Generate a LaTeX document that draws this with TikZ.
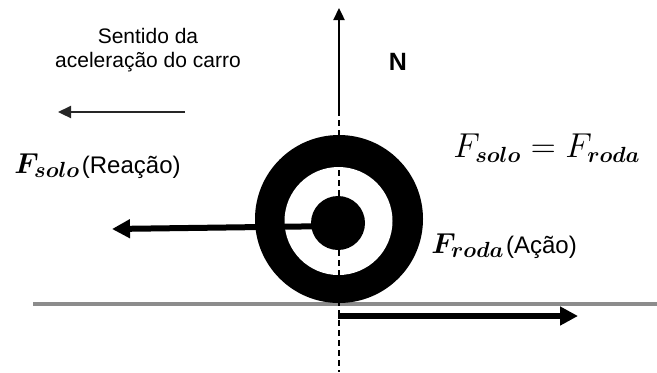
\documentclass[tikz,border=0pt]{standalone}
\usepackage{amsmath}
\usepackage{fontspec}
\setmainfont{Liberation Sans}
\usepackage{tikz}
\usetikzlibrary{arrows.meta}
\usetikzlibrary{positioning}

\tikzset{
  forca/.style={line width=3pt,-{Triangle[length=9pt,width=9pt]}},
  rotulo/.style={anchor=base west,inner sep=0pt,font=\fontsize{12}{14}\selectfont},
}
\newcommand{\vetor}[1]{{\fontsize{15}{18}\selectfont$\boldsymbol{F_{#1}}$}\hspace{0.8pt}}

\begin{document}
\begin{tikzpicture}[x=0.5pt,y=-0.5pt]
\useasboundingbox (0,0) rectangle (657,372);

% solo
\coordinate (S1) at (33,304);
\coordinate (S2) at (657,304);
\draw[line width=2pt,black!45] (S1) -- (S2);

% roda (coroa preta, anel branco e disco central)
\coordinate (O) at (339,219);
\fill (O) circle (84);
\fill[white] (338.5,221) circle (54);
\fill (338,223) circle (27);

% linha vertical tracejada e normal N
\coordinate (N0) at (339,110);
\coordinate (N1) at (339,8);
\coordinate (B) at (339,372);
\draw[line width=0.8pt,dash pattern=on 3pt off 2pt] (N0) -- (B);
\draw[line width=1.2pt,-{Triangle[length=6pt,width=5.5pt]}] (N0) -- (N1);
\node[font=\bfseries\fontsize{12.5}{14}\selectfont] (N) at (398,62) {N};

% sentido da aceleracao
\node[align=center,font=\fontsize{10.5}{12}\selectfont] (sentido) at (148,50)
  {Sentido da\\aceleração do carro};
\coordinate (A0) at (185,112);
\coordinate (A1) at (58,112);
\draw[line width=1.1pt,black!85,-{Triangle[length=6.5pt,width=6pt]}] (A0) -- (A1);

% forcas de acao e reacao
\coordinate (C) at (338,226);
\coordinate (Fs) at (112,229);
\draw[forca] (C) -- (Fs);
\coordinate (P) at (338,316);
\coordinate (Fr) at (578,316);
\draw[forca] (P) -- (Fr);

% rotulos
\node[rotulo] (solo) at (14,173) {\vetor{solo}(Reação)};
\node[rotulo] (roda) at (431,253) {\vetor{roda}(Ação)};
\node[anchor=base west,inner sep=0pt,font=\fontsize{16}{19}\selectfont] (igual) at (453,157)
  {$F_{\boldsymbol{solo}} = F_{\boldsymbol{roda}}$};

\end{tikzpicture}
\end{document}
